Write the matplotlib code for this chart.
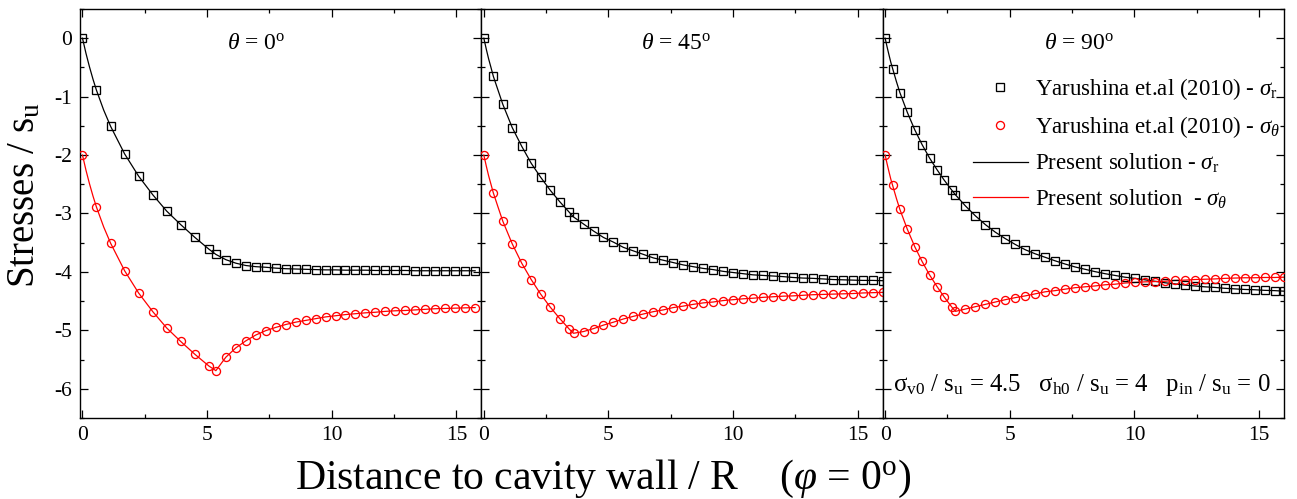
import matplotlib
matplotlib.use('Agg')
import matplotlib.pyplot as plt
from matplotlib.lines import Line2D
from matplotlib.ticker import MultipleLocator

plt.rcParams.update({
    'font.family': ['Liberation Serif', 'DejaVu Serif'],
    'mathtext.fontset': 'custom',
    'mathtext.rm': 'Liberation Serif',
    'mathtext.it': 'Liberation Serif:italic',
    'mathtext.bf': 'Liberation Serif:bold',
    'axes.unicode_minus': False,
})

# ---------------- data ----------------
panel_titles = [r'$\theta$ = 0$^{\mathrm{o}}$', r'$\theta$ = 45$^{\mathrm{o}}$', r'$\theta$ = 90$^{\mathrm{o}}$']

# theta = 0
th0_d = [0, 0.56, 1.13, 1.69, 2.25, 2.82, 3.38, 3.94, 4.51, 5.07, 5.35,
         5.75, 6.15, 6.55, 6.95, 7.35, 7.75, 8.15, 8.55, 8.95, 9.35, 9.75, 10.15, 10.55,
         10.95, 11.35, 11.75, 12.15, 12.55, 12.95, 13.35, 13.75, 14.15, 14.55, 14.95, 15.35, 15.75]
th0_sr = [0, -0.89, -1.51, -1.98, -2.36, -2.68, -2.96, -3.19, -3.41, -3.61, -3.70,
          -3.79, -3.85, -3.89, -3.91, -3.92, -3.935, -3.945, -3.95, -3.955, -3.96, -3.965, -3.965, -3.97,
          -3.97, -3.97, -3.975, -3.975, -3.975, -3.975, -3.98, -3.98, -3.98, -3.98, -3.98, -3.98, -3.98]
th0_st = [-2, -2.89, -3.51, -3.98, -4.36, -4.68, -4.96, -5.19, -5.41, -5.61, -5.69,
          -5.46, -5.30, -5.18, -5.08, -5.005, -4.95, -4.90, -4.86, -4.83, -4.80, -4.77, -4.75, -4.73,
          -4.715, -4.70, -4.69, -4.675, -4.665, -4.66, -4.65, -4.64, -4.63, -4.625, -4.62, -4.615, -4.61]
th0_line_d_extra = [0.14, 0.28, 0.42, 0.85]
th0_line_sr_extra = [-0.26, -0.49, -0.70, -1.23]
th0_line_st_extra = [-2.26, -2.49, -2.70, -3.23]

# theta = 45
th45_d = [0, 0.38, 0.76, 1.14, 1.52, 1.90, 2.28, 2.66, 3.05, 3.43, 3.60,
          4.0, 4.4, 4.8, 5.2, 5.6, 6.0, 6.4, 6.8, 7.2, 7.6, 8.0, 8.4, 8.8, 9.2, 9.6, 10.0,
          10.4, 10.8, 11.2, 11.6, 12.0, 12.4, 12.8, 13.2, 13.6, 14.0, 14.4, 14.8, 15.2, 15.6, 16.0]
th45_sr = [0, -0.65, -1.13, -1.53, -1.85, -2.14, -2.38, -2.60, -2.80, -2.98, -3.06,
           -3.18, -3.30, -3.41, -3.49, -3.58, -3.64, -3.70, -3.76, -3.80, -3.84, -3.88, -3.91, -3.94,
           -3.96, -3.99, -4.01, -4.03, -4.05, -4.06, -4.07, -4.08, -4.095, -4.105, -4.11, -4.12, -4.13,
           -4.135, -4.14, -4.145, -4.145, -4.15]
th45_st = [-2, -2.645, -3.13, -3.52, -3.85, -4.13, -4.38, -4.60, -4.80, -4.98, -5.05,
           -5.02, -4.97, -4.91, -4.86, -4.805, -4.76, -4.72, -4.68, -4.65, -4.61, -4.585, -4.555, -4.53,
           -4.515, -4.49, -4.475, -4.46, -4.45, -4.435, -4.425, -4.415, -4.41, -4.40, -4.39, -4.385,
           -4.38, -4.375, -4.37, -4.36, -4.355, -4.35]
th45_line_d_extra = [0.10, 0.19, 0.28, 0.57]
th45_line_sr_extra = [-0.19, -0.35, -0.49, -0.89]
th45_line_st_extra = [-2.19, -2.35, -2.49, -2.89]

# theta = 90
th90_d = [0, 0.30, 0.59, 0.89, 1.19, 1.48, 1.78, 2.08, 2.37, 2.67, 2.82,
          3.22, 3.62, 4.02, 4.42, 4.82, 5.22, 5.62, 6.02, 6.42, 6.82, 7.22, 7.62, 8.02, 8.42,
          8.82, 9.22, 9.62, 10.02, 10.42, 10.82, 11.22, 11.62, 12.02, 12.42, 12.82, 13.22, 13.62,
          14.02, 14.42, 14.82, 15.22, 15.62, 16.02]
th90_sr = [0, -0.52, -0.93, -1.27, -1.57, -1.82, -2.05, -2.25, -2.43, -2.60, -2.68,
           -2.87, -3.04, -3.19, -3.32, -3.43, -3.53, -3.62, -3.69, -3.75, -3.81, -3.865, -3.915,
           -3.955, -3.995, -4.03, -4.06, -4.09, -4.11, -4.135, -4.16, -4.185, -4.205, -4.225, -4.24,
           -4.255, -4.265, -4.28, -4.29, -4.30, -4.305, -4.315, -4.32, -4.33]
th90_st = [-2, -2.52, -2.93, -3.27, -3.57, -3.82, -4.05, -4.25, -4.43, -4.60, -4.675,
           -4.635, -4.595, -4.555, -4.515, -4.475, -4.44, -4.41, -4.375, -4.34, -4.32, -4.295, -4.27,
           -4.255, -4.24, -4.22, -4.21, -4.19, -4.18, -4.17, -4.165, -4.16, -4.145, -4.14, -4.13,
           -4.125, -4.12, -4.11, -4.105, -4.10, -4.10, -4.095, -4.095, -4.09]
th90_line_d_extra = [0.075, 0.15, 0.225, 0.45]
th90_line_sr_extra = [-0.145, -0.28, -0.41, -0.74]
th90_line_st_extra = [-2.145, -2.28, -2.41, -2.74]

panels = [
    (th0_d, th0_sr, th0_st, th0_line_d_extra, th0_line_sr_extra, th0_line_st_extra),
    (th45_d, th45_sr, th45_st, th45_line_d_extra, th45_line_sr_extra, th45_line_st_extra),
    (th90_d, th90_sr, th90_st, th90_line_d_extra, th90_line_sr_extra, th90_line_st_extra),
]
title_x = [0.44, 0.485, 0.49]

legend_labels = [r'Yarushina et.al (2010) - $\sigma_{\mathrm{r}}$',
                 r'Yarushina et.al (2010) - $\sigma_{\theta}$',
                 r'Present solution - $\sigma_{\mathrm{r}}$',
                 r'Present solution  - $\sigma_{\theta}$']
param_text = ('σ$_{\\mathrm{v0}}$ / s$_{\\mathrm{u}}$ = 4.5   '
              'σ$_{\\mathrm{h0}}$ / s$_{\\mathrm{u}}$ = 4   '
              'p$_{\\mathrm{in}}$ / s$_{\\mathrm{u}}$ = 0')

# ---------------- figure ----------------
fig = plt.figure(figsize=(12.97, 4.99), dpi=100)
axes = fig.subplots(1, 3, sharey=True, gridspec_kw=dict(wspace=0))
fig.subplots_adjust(left=80/1297, right=1284/1297, top=1-9/499, bottom=1-418/499)

ms_sq, ms_ci, mew, lw = 5.2, 5.8, 0.95, 0.9

def merged(d, v, de, ve):
    pts = sorted(list(zip(d, v)) + list(zip(de, ve)))
    return [p[0] for p in pts], [p[1] for p in pts]

for i, (ax, (d, sr, st, de, sre, ste)) in enumerate(zip(axes, panels)):
    assert len(d) == len(sr) == len(st)
    lx, ly = merged(d, sr, de, sre)
    ax.plot(lx, ly, color='black', lw=lw, zorder=2)
    lx, ly = merged(d, st, de, ste)
    ax.plot(lx, ly, color='red', lw=lw, zorder=2)
    ax.plot(d, sr, ls='none', marker='s', ms=ms_sq, mfc='none', mec='black', mew=mew, zorder=3)
    ax.plot(d, st, ls='none', marker='o', ms=ms_ci, mfc='none', mec='red', mew=mew, zorder=3)

    ax.set_xlim(-0.1, 16.0)
    ax.set_ylim(-6.5, 0.5)
    ax.xaxis.set_major_locator(MultipleLocator(5))
    ax.xaxis.set_minor_locator(MultipleLocator(2.5))
    ax.yaxis.set_major_locator(MultipleLocator(1))
    ax.yaxis.set_minor_locator(MultipleLocator(0.5))
    ax.tick_params(which='both', direction='in', top=True, right=True,
                   labelsize=15.5, width=0.9, colors='black')
    ax.tick_params(which='major', length=5.5)
    ax.tick_params(which='minor', length=3)
    ax.tick_params(axis='x', pad=6)
    ax.tick_params(axis='y', pad=6)
    for s in ax.spines.values():
        s.set_linewidth(1.0)
    ax.text(title_x[i], 0.915, panel_titles[i], transform=ax.transAxes,
            ha='center', va='center', fontsize=17)

handles = [
    Line2D([], [], ls='none', marker='s', ms=ms_sq, mfc='none', mec='black', mew=mew),
    Line2D([], [], ls='none', marker='o', ms=ms_ci, mfc='none', mec='red', mew=mew),
    Line2D([], [], color='black', lw=lw),
    Line2D([], [], color='red', lw=lw),
]
axes[2].legend(handles, legend_labels, loc='upper left', bbox_to_anchor=(0.225, 0.835),
               frameon=False, fontsize=16.5, handlelength=2.4, handletextpad=0.3,
               labelspacing=0.52, borderpad=0, borderaxespad=0)

axes[2].text(0.025, 0.08, param_text, transform=axes[2].transAxes,
             ha='left', va='center', fontsize=17.8)

fig.text(0.019, 0.61, r'Stresses / s$_{\mathrm{u}}$', rotation=90,
         ha='center', va='center', fontsize=28)
fig.text(0.465, 0.02, r'Distance to cavity wall / R    ($\varphi$ = 0$^{\mathrm{o}}$)',
         ha='center', va='baseline', fontsize=30)

fig.savefig('out.png', dpi=100)
